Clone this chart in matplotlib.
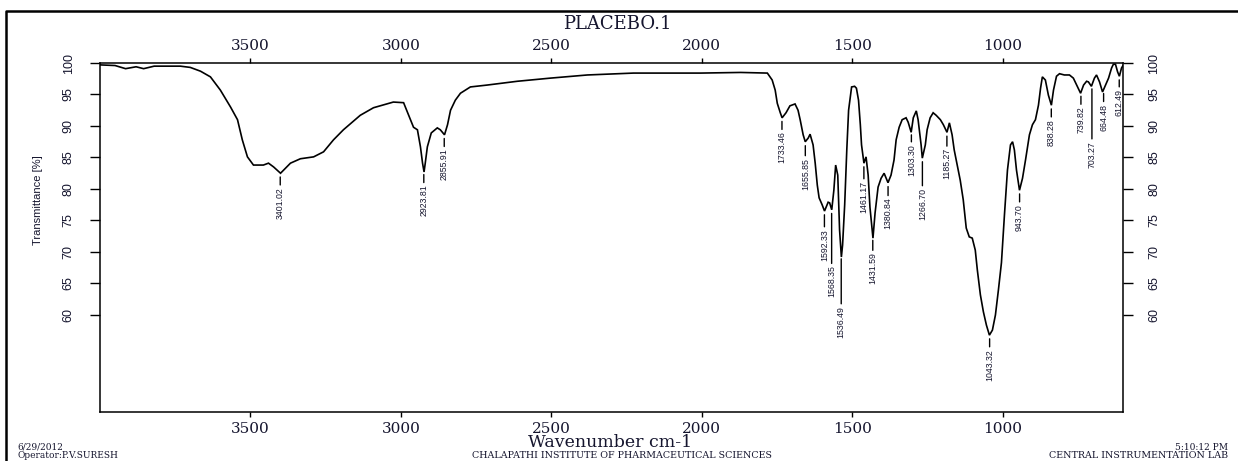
import numpy as np
import matplotlib
matplotlib.use("Agg")
import matplotlib.pyplot as plt
from matplotlib.lines import Line2D

# ---------------- data ----------------
wavenumber = [4000, 3950, 3915, 3880, 3855, 3820, 3780, 3733, 3700, 3666, 3633, 3600,
              3566, 3543, 3527, 3510, 3490, 3457, 3440, 3423, 3400, 3367, 3334, 3290,
              3257, 3224, 3191, 3135, 3091, 3025, 2991, 2958, 2945, 2935, 2928, 2923,
              2919, 2912, 2899, 2879, 2869, 2855, 2845, 2835, 2819, 2802, 2769, 2713,
              2613, 2503, 2380, 2227, 2004, 1871, 1782, 1766, 1756, 1749, 1739, 1733,
              1720, 1707, 1690, 1680, 1673, 1663, 1656, 1646, 1640, 1630, 1623, 1616,
              1610, 1600, 1592, 1580, 1575, 1568, 1561, 1555, 1548, 1542, 1536, 1532,
              1525, 1518, 1512, 1502, 1492, 1486, 1479, 1473, 1469, 1461, 1454, 1447,
              1441, 1431, 1424, 1414, 1404, 1394, 1381, 1371, 1361, 1354, 1344, 1334,
              1321, 1314, 1304, 1297, 1287, 1281, 1271, 1267, 1257, 1251, 1241, 1231,
              1221, 1207, 1197, 1185, 1177, 1168, 1161, 1151, 1141, 1131, 1121, 1111,
              1101, 1091, 1084, 1074, 1064, 1054, 1044, 1034, 1024, 1014, 1004, 994,
              984, 974, 967, 961, 954, 944, 934, 924, 911, 901, 891, 881, 874, 868,
              858, 848, 838, 831, 821, 811, 795, 778, 765, 752, 741, 731, 721, 715,
              705, 695, 688, 678, 668, 658, 648, 638, 632, 625, 618, 612, 605, 600]
transmittance = [99.7, 99.6, 99.1, 99.4, 99.1, 99.5, 99.5, 99.5, 99.3, 98.7, 97.8, 95.7,
                 93.0, 91.0, 87.8, 85.1, 83.8, 83.8, 84.1, 83.5, 82.5, 84.1, 84.8, 85.1,
                 85.9, 87.8, 89.4, 91.7, 92.9, 93.8, 93.7, 89.8, 89.4, 86.7, 84.1, 82.7,
                 84.1, 86.7, 88.9, 89.7, 89.4, 88.6, 90.2, 92.5, 94.1, 95.2, 96.2, 96.5,
                 97.1, 97.6, 98.1, 98.4, 98.4, 98.5, 98.4, 97.3, 95.7, 93.6, 92.1, 91.3,
                 92.1, 93.2, 93.5, 92.5, 91.0, 88.6, 87.5, 88.1, 88.7, 87.0, 84.1, 80.6,
                 78.6, 77.5, 76.5, 77.9, 77.8, 76.7, 79.8, 83.8, 82.2, 73.5, 69.2, 71.1,
                 77.5, 86.2, 92.5, 96.2, 96.3, 96.0, 94.1, 90.2, 87.0, 84.1, 85.1, 82.2,
                 77.1, 72.2, 76.2, 80.3, 81.7, 82.5, 81.0, 82.2, 84.6, 87.8, 89.8, 91.0,
                 91.3, 90.6, 89.0, 91.3, 92.4, 91.0, 87.0, 84.9, 87.0, 89.4, 91.3, 92.1,
                 91.7, 91.0, 90.2, 89.0, 90.5, 88.6, 86.2, 83.8, 81.4, 78.3, 73.8, 72.4,
                 72.2, 70.3, 67.1, 63.2, 60.5, 58.4, 56.8, 57.6, 60.0, 64.0, 68.3, 75.9,
                 83.0, 87.0, 87.5, 86.2, 83.0, 79.8, 81.7, 84.6, 88.6, 90.2, 91.0, 93.3,
                 96.0, 97.8, 97.3, 94.9, 93.3, 95.7, 97.9, 98.3, 98.1, 98.1, 97.6, 96.3,
                 95.2, 96.5, 97.1, 97.0, 96.3, 97.6, 98.1, 97.0, 95.4, 96.5, 97.6, 99.2,
                 99.8, 99.8, 98.6, 97.9, 99.2, 99.6]

peak_positions = [3401.02, 2923.81, 2855.91, 1733.46, 1655.85, 1592.33, 1568.35,
                  1536.49, 1461.17, 1431.59, 1380.84, 1303.30, 1266.70, 1185.27,
                  1043.32, 943.70, 838.28, 739.82, 703.27, 664.48, 612.49]
peak_labels = ["3401.02", "2923.81", "2855.91", "1733.46", "1655.85", "1592.33",
               "1568.35", "1536.49", "1461.17", "1431.59", "1380.84", "1303.30",
               "1266.70", "1185.27", "1043.32", "943.70", "838.28", "739.82",
               "703.27", "664.48", "612.49"]

x_ticks = [3500, 3000, 2500, 2000, 1500, 1000]
y_ticks = [60, 65, 70, 75, 80, 85, 90, 95, 100]

# layout for the peak markers (pixels): line length below each minimum
dash_len_px = [8, 8, 8, 8, 10, 12, 50, 45, 12, 10, 9, 7, 24, 10, 8, 8, 8, 8, 50, 8, 7]

# ---------------- figure ----------------
W, H, DPI = 1238, 461, 100
fig = plt.figure(figsize=(W / DPI, H / DPI), dpi=DPI)
fig.patch.set_facecolor("white")

ax_l, ax_r, ax_t, ax_b = 100, 1123, 63, 412
ax = fig.add_axes([ax_l / W, 1 - ax_b / H, (ax_r - ax_l) / W, (ax_b - ax_t) / H])

ax.plot(wavenumber, transmittance, color="black", lw=1.2, solid_joinstyle="miter")
ax.set_xlim(4000, 600)
ax.set_ylim(44.6, 100)

serif = ["DejaVu Serif"]
sans = ["Liberation Sans", "DejaVu Sans"]
txtc = "#15152e"

for s in ax.spines.values():
    s.set_linewidth(1.1)

ax.set_xticks(x_ticks)
ax.set_xticklabels([str(v) for v in x_ticks])
ax.tick_params(axis="x", which="both", direction="out", length=3.6, width=1.0,
               top=True, bottom=True, labeltop=True, labelbottom=True, pad=3.5,
               labelsize=11, labelcolor=txtc)

ax.set_yticks(y_ticks)
ax.set_yticklabels([str(v) for v in y_ticks])
ax.tick_params(axis="y", which="both", direction="out", length=7.2, width=1.0,
               left=True, right=True, labelleft=True, labelright=True, pad=11,
               labelsize=9, labelcolor=txtc)
for tick in ax.yaxis.get_major_ticks():
    for lab in (tick.label1, tick.label2):
        lab.set_rotation(90)
        lab.set_va("center")
        lab.set_family(sans)
for tick in ax.xaxis.get_major_ticks():
    tick.label1.set_family(serif)
    tick.label2.set_family(serif)

# peak annotations
w_asc = np.array(wavenumber[::-1], dtype=float)
t_asc = np.array(transmittance[::-1], dtype=float)
px2pt = 72.0 / DPI
gap_px = 4
for pos, lab, dl in zip(peak_positions, peak_labels, dash_len_px):
    yv = float(np.interp(pos, w_asc, t_asc))
    ax.annotate("", xy=(pos, yv), xytext=(0, -(gap_px + dl) * px2pt),
                textcoords="offset points",
                arrowprops=dict(arrowstyle="-", lw=1.0, color="black",
                                shrinkA=0, shrinkB=gap_px * px2pt))
    ax.annotate(lab, xy=(pos, yv), xytext=(0, -(gap_px + dl + 2) * px2pt),
                textcoords="offset points", rotation=90, ha="center", va="top",
                fontsize=6.3, family=sans, color=txtc)

# texts
fig.text(617 / W, 1 - 24 / H, "PLACEBO.1", ha="center", va="center",
         family=serif, fontsize=13, color=txtc)
fig.text(38 / W, 1 - 200 / H, "Transmittance [%]", rotation=90, ha="center",
         va="center", family=sans, fontsize=8, color=txtc)
fig.text(610 / W, 1 - 442 / H, "Wavenumber cm-1", ha="center", va="center",
         family=serif, fontsize=12.5, color=txtc)
fig.text(622 / W, 1 - 455 / H, "CHALAPATHI INSTITUTE OF PHARMACEUTICAL SCIENCES",
         ha="center", va="center", family=serif, fontsize=6.8, color=txtc)
fig.text(17 / W, 1 - 447 / H, "6/29/2012", ha="left", va="center",
         family=serif, fontsize=6.5, color=txtc)
fig.text(17 / W, 1 - 455 / H, "Operator:P.V.SURESH", ha="left", va="center",
         family=serif, fontsize=6.5, color=txtc)
fig.text(1228 / W, 1 - 447 / H, "5:10:12 PM", ha="right", va="center",
         family=serif, fontsize=6.5, color=txtc)
fig.text(1228 / W, 1 - 455 / H, "CENTRAL INSTRUMENTATION LAB", ha="right",
         va="center", family=serif, fontsize=6.8, color=txtc)

# outer frame (left and top edges visible)
fig.add_artist(Line2D([5.5 / W, 5.5 / W, 1.0], [0.0, 1 - 11 / H, 1 - 11 / H],
                      transform=fig.transFigure, color="black", lw=1.8))

fig.savefig("out.png", dpi=DPI)
